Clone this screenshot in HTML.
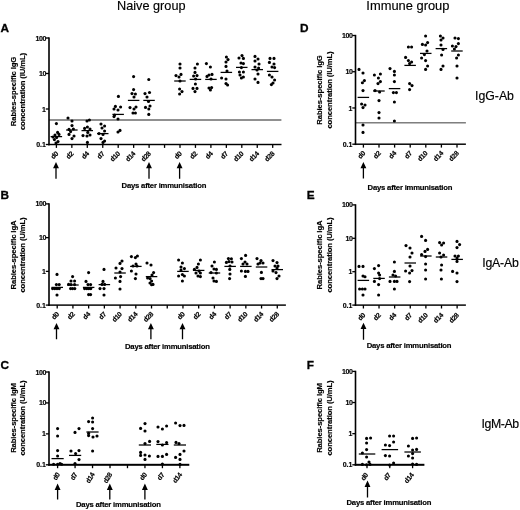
<!DOCTYPE html>
<html><head><meta charset="utf-8"><title>Figure</title>
<style>
html,body{margin:0;padding:0;background:#fff;}
body{width:520px;height:510px;overflow:hidden;font-family:"Liberation Sans",sans-serif;}
svg{display:block;}
.r{stroke:#000;stroke-width:0.15px;}
.b{font-weight:bold;stroke:#000;stroke-width:0.16px;}
.L{stroke-width:0.3px;}
</style></head><body>
<svg style="filter:blur(0.25px)" width="520" height="510" viewBox="0 0 520 510">
<rect width="520" height="510" fill="#fff"/>
<g fill="#000" font-family='"Liberation Sans", sans-serif'>
<text class="r" x="151.3" y="9.5" font-size="12.7" text-anchor="middle">Naive group</text>
<text class="r" x="407.9" y="9.6" font-size="12.9" text-anchor="middle">Immune group</text>
<text class="r" x="475.0" y="99.6" font-size="12.3">IgG-Ab</text>
<text class="r" x="482.2" y="267" font-size="12.3" letter-spacing="-0.2">IgA-Ab</text>
<text class="r" x="481.6" y="428.3" font-size="12.3" letter-spacing="-0.45">IgM-Ab</text>
<text x="0.6" y="32.0" class="b L" font-size="11.8">A</text>
<rect x="49" y="119.3" width="232.4" height="1.4" fill="#626262"/>
<rect x="48.2" y="37.35" width="1.6" height="108.0"/>
<rect x="48.2" y="143.78" width="233.3" height="1.45"/>
<rect x="45.8" y="37.35" width="3.2" height="1.3"/>
<text class="b" x="45.9" y="40.5" font-size="7.0" letter-spacing="-0.45" text-anchor="end">100</text>
<rect x="45.8" y="72.85" width="3.2" height="1.3"/>
<text class="b" x="45.9" y="76.0" font-size="7.0" letter-spacing="-0.45" text-anchor="end">10</text>
<rect x="45.8" y="108.35" width="3.2" height="1.3"/>
<text class="b" x="45.9" y="111.5" font-size="7.0" letter-spacing="0" text-anchor="end">1</text>
<rect x="45.8" y="143.85" width="3.2" height="1.3"/>
<text class="b" x="45.9" y="147.0" font-size="7.0" letter-spacing="0" text-anchor="end">0.1</text>
<rect x="55.75" y="144.5" width="1.3" height="3.4"/>
<text transform="translate(58.6 154.1) rotate(-46)" class="b" font-size="6.9" letter-spacing="-0.3" text-anchor="end">d0</text>
<rect x="71.20" y="144.5" width="1.3" height="3.4"/>
<text transform="translate(74.0 154.1) rotate(-46)" class="b" font-size="6.9" letter-spacing="-0.3" text-anchor="end">d2</text>
<rect x="86.65" y="144.5" width="1.3" height="3.4"/>
<text transform="translate(89.5 154.1) rotate(-46)" class="b" font-size="6.9" letter-spacing="-0.3" text-anchor="end">d4</text>
<rect x="102.10" y="144.5" width="1.3" height="3.4"/>
<text transform="translate(105.0 154.1) rotate(-46)" class="b" font-size="6.9" letter-spacing="-0.3" text-anchor="end">d7</text>
<rect x="117.55" y="144.5" width="1.3" height="3.4"/>
<text transform="translate(120.4 154.1) rotate(-46)" class="b" font-size="6.9" letter-spacing="-0.3" text-anchor="end">d10</text>
<rect x="133.00" y="144.5" width="1.3" height="3.4"/>
<text transform="translate(135.8 154.1) rotate(-46)" class="b" font-size="6.9" letter-spacing="-0.3" text-anchor="end">d14</text>
<rect x="148.45" y="144.5" width="1.3" height="3.4"/>
<text transform="translate(151.3 154.1) rotate(-46)" class="b" font-size="6.9" letter-spacing="-0.3" text-anchor="end">d28</text>
<rect x="163.90" y="144.5" width="1.3" height="3.4"/>
<rect x="179.35" y="144.5" width="1.3" height="3.4"/>
<text transform="translate(182.2 154.1) rotate(-46)" class="b" font-size="6.9" letter-spacing="-0.3" text-anchor="end">d0</text>
<rect x="194.80" y="144.5" width="1.3" height="3.4"/>
<text transform="translate(197.6 154.1) rotate(-46)" class="b" font-size="6.9" letter-spacing="-0.3" text-anchor="end">d2</text>
<rect x="210.25" y="144.5" width="1.3" height="3.4"/>
<text transform="translate(213.1 154.1) rotate(-46)" class="b" font-size="6.9" letter-spacing="-0.3" text-anchor="end">d4</text>
<rect x="225.70" y="144.5" width="1.3" height="3.4"/>
<text transform="translate(228.5 154.1) rotate(-46)" class="b" font-size="6.9" letter-spacing="-0.3" text-anchor="end">d7</text>
<rect x="241.15" y="144.5" width="1.3" height="3.4"/>
<text transform="translate(244.0 154.1) rotate(-46)" class="b" font-size="6.9" letter-spacing="-0.3" text-anchor="end">d10</text>
<rect x="256.60" y="144.5" width="1.3" height="3.4"/>
<text transform="translate(259.4 154.1) rotate(-46)" class="b" font-size="6.9" letter-spacing="-0.3" text-anchor="end">d14</text>
<rect x="272.05" y="144.5" width="1.3" height="3.4"/>
<text transform="translate(274.9 154.1) rotate(-46)" class="b" font-size="6.9" letter-spacing="-0.3" text-anchor="end">d28</text>
<text transform="translate(15.5 91.5) rotate(-90)" class="b" font-size="7.7" letter-spacing="-0.11" text-anchor="middle">Rabies-specific IgG</text>
<text transform="translate(25.0 91.5) rotate(-90)" class="b" font-size="7.7" letter-spacing="-0.11" text-anchor="middle">concentration (IU/mL)</text>
<path d="M56.0 162.0 L53.05 168.3 L55.35 168.3 L55.35 178.8 L56.65 178.8 L56.65 168.3 L58.95 168.3 Z"/>
<path d="M149.0 162.0 L146.05 168.3 L148.35 168.3 L148.35 178.8 L149.65 178.8 L149.65 168.3 L151.95 168.3 Z"/>
<path d="M179.6 162.0 L176.65 168.3 L178.95 168.3 L178.95 178.8 L180.25 178.8 L180.25 168.3 L182.55 168.3 Z"/>
<text x="163.9" y="188.4" class="b" font-size="7.7" letter-spacing="-0.2" text-anchor="middle">Days after immunisation</text>
<rect x="50.6" y="135.98" width="11.5" height="1.25"/>
<circle cx="56.4" cy="123.6" r="1.55"/>
<circle cx="57.6" cy="132.4" r="1.55"/>
<circle cx="55.0" cy="135.0" r="1.55"/>
<circle cx="59.0" cy="134.4" r="1.55"/>
<circle cx="53.0" cy="137.0" r="1.55"/>
<circle cx="56.6" cy="137.6" r="1.55"/>
<circle cx="54.4" cy="139.6" r="1.55"/>
<circle cx="58.0" cy="141.6" r="1.55"/>
<circle cx="56.0" cy="143.0" r="1.55"/>
<rect x="66.1" y="129.38" width="11.5" height="1.25"/>
<circle cx="68.0" cy="118.0" r="1.55"/>
<circle cx="72.0" cy="121.0" r="1.55"/>
<circle cx="72.0" cy="125.6" r="1.55"/>
<circle cx="69.0" cy="129.4" r="1.55"/>
<circle cx="73.4" cy="129.0" r="1.55"/>
<circle cx="70.6" cy="131.6" r="1.55"/>
<circle cx="69.0" cy="134.4" r="1.55"/>
<circle cx="74.0" cy="136.0" r="1.55"/>
<circle cx="72.0" cy="138.6" r="1.55"/>
<rect x="81.5" y="129.98" width="11.5" height="1.25"/>
<circle cx="89.4" cy="120.0" r="1.55"/>
<circle cx="87.0" cy="121.0" r="1.55"/>
<circle cx="87.4" cy="127.0" r="1.55"/>
<circle cx="87.8" cy="132.4" r="1.55"/>
<circle cx="84.6" cy="128.4" r="1.55"/>
<circle cx="90.0" cy="129.0" r="1.55"/>
<circle cx="83.0" cy="135.6" r="1.55"/>
<circle cx="87.0" cy="136.0" r="1.55"/>
<circle cx="90.0" cy="135.0" r="1.55"/>
<circle cx="87.4" cy="142.4" r="1.55"/>
<rect x="97.0" y="132.98" width="11.5" height="1.25"/>
<circle cx="101.0" cy="124.0" r="1.55"/>
<circle cx="104.6" cy="126.0" r="1.55"/>
<circle cx="102.0" cy="128.0" r="1.55"/>
<circle cx="104.6" cy="131.0" r="1.55"/>
<circle cx="99.0" cy="133.6" r="1.55"/>
<circle cx="103.0" cy="134.4" r="1.55"/>
<circle cx="101.0" cy="138.6" r="1.55"/>
<circle cx="104.6" cy="141.0" r="1.55"/>
<circle cx="103.0" cy="142.4" r="1.55"/>
<rect x="112.4" y="113.78" width="11.5" height="1.25"/>
<circle cx="118.4" cy="96.4" r="1.55"/>
<circle cx="115.4" cy="106.4" r="1.55"/>
<circle cx="120.6" cy="107.0" r="1.55"/>
<circle cx="114.0" cy="109.0" r="1.55"/>
<circle cx="118.0" cy="110.0" r="1.55"/>
<circle cx="114.6" cy="115.0" r="1.55"/>
<circle cx="114.0" cy="116.6" r="1.55"/>
<circle cx="118.0" cy="119.0" r="1.55"/>
<circle cx="120.0" cy="130.4" r="1.55"/>
<circle cx="118.0" cy="132.0" r="1.55"/>
<rect x="127.9" y="99.78" width="11.5" height="1.25"/>
<circle cx="133.6" cy="76.6" r="1.55"/>
<circle cx="133.6" cy="89.6" r="1.55"/>
<circle cx="132.0" cy="93.6" r="1.55"/>
<circle cx="135.4" cy="94.0" r="1.55"/>
<circle cx="134.0" cy="97.0" r="1.55"/>
<circle cx="130.0" cy="107.6" r="1.55"/>
<circle cx="136.0" cy="107.0" r="1.55"/>
<circle cx="134.0" cy="109.0" r="1.55"/>
<circle cx="133.0" cy="113.0" r="1.55"/>
<circle cx="135.4" cy="113.0" r="1.55"/>
<rect x="143.3" y="99.78" width="11.5" height="1.25"/>
<circle cx="148.8" cy="79.5" r="1.55"/>
<circle cx="145.0" cy="93.6" r="1.55"/>
<circle cx="149.5" cy="92.5" r="1.55"/>
<circle cx="147.0" cy="97.0" r="1.55"/>
<circle cx="148.5" cy="101.5" r="1.55"/>
<circle cx="150.0" cy="106.0" r="1.55"/>
<circle cx="145.5" cy="107.4" r="1.55"/>
<circle cx="148.8" cy="109.0" r="1.55"/>
<circle cx="148.8" cy="114.4" r="1.55"/>
<rect x="174.2" y="80.38" width="11.5" height="1.25"/>
<circle cx="180.0" cy="64.0" r="1.55"/>
<circle cx="180.0" cy="68.0" r="1.55"/>
<circle cx="176.0" cy="75.6" r="1.55"/>
<circle cx="181.0" cy="74.4" r="1.55"/>
<circle cx="179.0" cy="77.0" r="1.55"/>
<circle cx="180.0" cy="81.0" r="1.55"/>
<circle cx="179.6" cy="89.0" r="1.55"/>
<circle cx="182.0" cy="91.6" r="1.55"/>
<circle cx="179.6" cy="94.0" r="1.55"/>
<rect x="189.7" y="78.78" width="11.5" height="1.25"/>
<circle cx="197.4" cy="64.0" r="1.55"/>
<circle cx="195.0" cy="68.0" r="1.55"/>
<circle cx="195.0" cy="72.4" r="1.55"/>
<circle cx="193.6" cy="76.0" r="1.55"/>
<circle cx="197.0" cy="75.6" r="1.55"/>
<circle cx="195.6" cy="79.0" r="1.55"/>
<circle cx="195.4" cy="84.0" r="1.55"/>
<circle cx="193.0" cy="88.4" r="1.55"/>
<circle cx="197.0" cy="88.4" r="1.55"/>
<circle cx="195.0" cy="91.6" r="1.55"/>
<rect x="205.2" y="78.78" width="11.5" height="1.25"/>
<circle cx="206.4" cy="63.6" r="1.55"/>
<circle cx="210.4" cy="67.0" r="1.55"/>
<circle cx="209.0" cy="75.0" r="1.55"/>
<circle cx="212.0" cy="74.4" r="1.55"/>
<circle cx="207.0" cy="76.4" r="1.55"/>
<circle cx="211.0" cy="79.0" r="1.55"/>
<circle cx="209.0" cy="88.0" r="1.55"/>
<circle cx="211.6" cy="87.6" r="1.55"/>
<circle cx="210.4" cy="90.0" r="1.55"/>
<rect x="220.6" y="71.78" width="11.5" height="1.25"/>
<circle cx="226.4" cy="57.0" r="1.55"/>
<circle cx="228.0" cy="59.6" r="1.55"/>
<circle cx="226.0" cy="62.0" r="1.55"/>
<circle cx="226.0" cy="66.4" r="1.55"/>
<circle cx="227.0" cy="71.0" r="1.55"/>
<circle cx="221.6" cy="78.0" r="1.55"/>
<circle cx="226.0" cy="79.0" r="1.55"/>
<circle cx="226.0" cy="83.6" r="1.55"/>
<circle cx="227.6" cy="85.0" r="1.55"/>
<rect x="236.0" y="66.78" width="11.5" height="1.25"/>
<circle cx="242.0" cy="55.6" r="1.55"/>
<circle cx="239.0" cy="58.0" r="1.55"/>
<circle cx="243.4" cy="58.4" r="1.55"/>
<circle cx="241.0" cy="63.0" r="1.55"/>
<circle cx="243.4" cy="63.6" r="1.55"/>
<circle cx="241.4" cy="67.6" r="1.55"/>
<circle cx="239.4" cy="72.0" r="1.55"/>
<circle cx="243.4" cy="72.0" r="1.55"/>
<circle cx="240.0" cy="75.0" r="1.55"/>
<circle cx="241.4" cy="78.0" r="1.55"/>
<circle cx="243.4" cy="77.0" r="1.55"/>
<rect x="251.5" y="68.98" width="11.5" height="1.25"/>
<circle cx="255.0" cy="56.4" r="1.55"/>
<circle cx="258.0" cy="59.0" r="1.55"/>
<circle cx="255.0" cy="61.0" r="1.55"/>
<circle cx="259.0" cy="64.0" r="1.55"/>
<circle cx="255.0" cy="67.0" r="1.55"/>
<circle cx="258.6" cy="68.0" r="1.55"/>
<circle cx="257.0" cy="70.0" r="1.55"/>
<circle cx="258.0" cy="74.0" r="1.55"/>
<circle cx="255.0" cy="79.0" r="1.55"/>
<circle cx="258.0" cy="82.4" r="1.55"/>
<rect x="266.9" y="70.78" width="11.5" height="1.25"/>
<circle cx="270.0" cy="58.4" r="1.55"/>
<circle cx="274.0" cy="58.4" r="1.55"/>
<circle cx="269.4" cy="62.4" r="1.55"/>
<circle cx="274.0" cy="64.0" r="1.55"/>
<circle cx="272.0" cy="67.0" r="1.55"/>
<circle cx="274.6" cy="67.6" r="1.55"/>
<circle cx="269.4" cy="75.0" r="1.55"/>
<circle cx="272.0" cy="77.0" r="1.55"/>
<circle cx="274.6" cy="80.0" r="1.55"/>
<circle cx="273.0" cy="83.0" r="1.55"/>
<circle cx="271.4" cy="84.6" r="1.55"/>
<text x="0.6" y="199.2" class="b L" font-size="11.8">B</text>
<rect x="48.2" y="203.25" width="1.6" height="102.7"/>
<rect x="48.2" y="304.38" width="237.7" height="1.45"/>
<rect x="45.8" y="203.25" width="3.2" height="1.3"/>
<text class="b" x="45.9" y="206.4" font-size="7.0" letter-spacing="-0.45" text-anchor="end">100</text>
<rect x="45.8" y="236.98" width="3.2" height="1.3"/>
<text class="b" x="45.9" y="240.1" font-size="7.0" letter-spacing="-0.45" text-anchor="end">10</text>
<rect x="45.8" y="270.72" width="3.2" height="1.3"/>
<text class="b" x="45.9" y="273.9" font-size="7.0" letter-spacing="0" text-anchor="end">1</text>
<rect x="45.8" y="304.45" width="3.2" height="1.3"/>
<text class="b" x="45.9" y="307.6" font-size="7.0" letter-spacing="0" text-anchor="end">0.1</text>
<rect x="56.55" y="305.1" width="1.3" height="3.4"/>
<text transform="translate(59.4 314.7) rotate(-46)" class="b" font-size="6.9" letter-spacing="-0.3" text-anchor="end">d0</text>
<rect x="72.27" y="305.1" width="1.3" height="3.4"/>
<text transform="translate(75.1 314.7) rotate(-46)" class="b" font-size="6.9" letter-spacing="-0.3" text-anchor="end">d2</text>
<rect x="87.99" y="305.1" width="1.3" height="3.4"/>
<text transform="translate(90.8 314.7) rotate(-46)" class="b" font-size="6.9" letter-spacing="-0.3" text-anchor="end">d4</text>
<rect x="103.71" y="305.1" width="1.3" height="3.4"/>
<text transform="translate(106.6 314.7) rotate(-46)" class="b" font-size="6.9" letter-spacing="-0.3" text-anchor="end">d7</text>
<rect x="119.43" y="305.1" width="1.3" height="3.4"/>
<text transform="translate(122.3 314.7) rotate(-46)" class="b" font-size="6.9" letter-spacing="-0.3" text-anchor="end">d10</text>
<rect x="135.15" y="305.1" width="1.3" height="3.4"/>
<text transform="translate(138.0 314.7) rotate(-46)" class="b" font-size="6.9" letter-spacing="-0.3" text-anchor="end">d14</text>
<rect x="150.87" y="305.1" width="1.3" height="3.4"/>
<text transform="translate(153.7 314.7) rotate(-46)" class="b" font-size="6.9" letter-spacing="-0.3" text-anchor="end">d28</text>
<rect x="166.59" y="305.1" width="1.3" height="3.4"/>
<rect x="182.31" y="305.1" width="1.3" height="3.4"/>
<text transform="translate(185.2 314.7) rotate(-46)" class="b" font-size="6.9" letter-spacing="-0.3" text-anchor="end">d0</text>
<rect x="198.03" y="305.1" width="1.3" height="3.4"/>
<text transform="translate(200.9 314.7) rotate(-46)" class="b" font-size="6.9" letter-spacing="-0.3" text-anchor="end">d2</text>
<rect x="213.75" y="305.1" width="1.3" height="3.4"/>
<text transform="translate(216.6 314.7) rotate(-46)" class="b" font-size="6.9" letter-spacing="-0.3" text-anchor="end">d4</text>
<rect x="229.47" y="305.1" width="1.3" height="3.4"/>
<text transform="translate(232.3 314.7) rotate(-46)" class="b" font-size="6.9" letter-spacing="-0.3" text-anchor="end">d7</text>
<rect x="245.19" y="305.1" width="1.3" height="3.4"/>
<text transform="translate(248.0 314.7) rotate(-46)" class="b" font-size="6.9" letter-spacing="-0.3" text-anchor="end">d10</text>
<rect x="260.91" y="305.1" width="1.3" height="3.4"/>
<text transform="translate(263.8 314.7) rotate(-46)" class="b" font-size="6.9" letter-spacing="-0.3" text-anchor="end">d14</text>
<rect x="276.63" y="305.1" width="1.3" height="3.4"/>
<text transform="translate(279.5 314.7) rotate(-46)" class="b" font-size="6.9" letter-spacing="-0.3" text-anchor="end">d28</text>
<text transform="translate(15.5 255.0) rotate(-90)" class="b" font-size="7.7" letter-spacing="-0.11" text-anchor="middle">Rabies-specific IgA</text>
<text transform="translate(25.0 255.0) rotate(-90)" class="b" font-size="7.7" letter-spacing="-0.11" text-anchor="middle">concentration (U/mL)</text>
<path d="M56.5 323.0 L53.55 329.3 L55.85 329.3 L55.85 339.3 L57.15 339.3 L57.15 329.3 L59.45 329.3 Z"/>
<path d="M150.9 323.0 L147.95 329.3 L150.25 329.3 L150.25 339.3 L151.55 339.3 L151.55 329.3 L153.85 329.3 Z"/>
<path d="M182.5 323.0 L179.55 329.3 L181.85 329.3 L181.85 339.3 L183.15 339.3 L183.15 329.3 L185.45 329.3 Z"/>
<text x="167.3" y="349.4" class="b" font-size="7.7" letter-spacing="-0.2" text-anchor="middle">Days after immunisation</text>
<rect x="51.5" y="286.78" width="11.5" height="1.25"/>
<circle cx="57.0" cy="274.4" r="1.55"/>
<circle cx="56.4" cy="284.6" r="1.55"/>
<circle cx="59.2" cy="284.6" r="1.55"/>
<circle cx="52.6" cy="288.6" r="1.55"/>
<circle cx="54.8" cy="288.6" r="1.55"/>
<circle cx="57.0" cy="288.6" r="1.55"/>
<circle cx="59.2" cy="288.6" r="1.55"/>
<circle cx="57.0" cy="295.0" r="1.55"/>
<rect x="67.2" y="284.38" width="11.5" height="1.25"/>
<circle cx="72.6" cy="276.6" r="1.55"/>
<circle cx="71.0" cy="281.0" r="1.55"/>
<circle cx="74.6" cy="281.0" r="1.55"/>
<circle cx="68.6" cy="284.4" r="1.55"/>
<circle cx="71.0" cy="284.6" r="1.55"/>
<circle cx="74.6" cy="284.6" r="1.55"/>
<circle cx="70.6" cy="288.6" r="1.55"/>
<circle cx="72.6" cy="288.6" r="1.55"/>
<circle cx="74.8" cy="288.6" r="1.55"/>
<rect x="82.9" y="286.78" width="11.5" height="1.25"/>
<circle cx="88.6" cy="272.6" r="1.55"/>
<circle cx="86.0" cy="281.4" r="1.55"/>
<circle cx="88.0" cy="284.6" r="1.55"/>
<circle cx="90.6" cy="284.6" r="1.55"/>
<circle cx="84.6" cy="288.6" r="1.55"/>
<circle cx="86.8" cy="288.6" r="1.55"/>
<circle cx="88.8" cy="288.6" r="1.55"/>
<circle cx="90.8" cy="288.6" r="1.55"/>
<circle cx="88.6" cy="294.6" r="1.55"/>
<circle cx="90.6" cy="294.6" r="1.55"/>
<rect x="98.6" y="283.98" width="11.5" height="1.25"/>
<circle cx="104.0" cy="269.4" r="1.55"/>
<circle cx="103.0" cy="281.4" r="1.55"/>
<circle cx="102.0" cy="284.4" r="1.55"/>
<circle cx="104.6" cy="284.4" r="1.55"/>
<circle cx="100.0" cy="288.6" r="1.55"/>
<circle cx="104.0" cy="288.6" r="1.55"/>
<circle cx="104.0" cy="295.0" r="1.55"/>
<rect x="114.3" y="272.38" width="11.5" height="1.25"/>
<circle cx="122.0" cy="261.0" r="1.55"/>
<circle cx="120.0" cy="263.4" r="1.55"/>
<circle cx="116.0" cy="268.0" r="1.55"/>
<circle cx="122.0" cy="268.6" r="1.55"/>
<circle cx="120.0" cy="272.0" r="1.55"/>
<circle cx="115.4" cy="278.0" r="1.55"/>
<circle cx="120.6" cy="276.6" r="1.55"/>
<circle cx="120.0" cy="281.4" r="1.55"/>
<circle cx="120.0" cy="289.0" r="1.55"/>
<rect x="130.1" y="265.78" width="11.5" height="1.25"/>
<circle cx="131.4" cy="256.6" r="1.55"/>
<circle cx="137.4" cy="256.0" r="1.55"/>
<circle cx="135.4" cy="257.6" r="1.55"/>
<circle cx="136.0" cy="264.0" r="1.55"/>
<circle cx="133.0" cy="266.0" r="1.55"/>
<circle cx="137.0" cy="266.0" r="1.55"/>
<circle cx="131.4" cy="271.0" r="1.55"/>
<circle cx="136.0" cy="274.0" r="1.55"/>
<circle cx="135.4" cy="278.6" r="1.55"/>
<rect x="145.8" y="275.98" width="11.5" height="1.25"/>
<circle cx="147.0" cy="263.0" r="1.55"/>
<circle cx="151.0" cy="265.0" r="1.55"/>
<circle cx="153.6" cy="272.6" r="1.55"/>
<circle cx="152.0" cy="275.0" r="1.55"/>
<circle cx="147.6" cy="278.0" r="1.55"/>
<circle cx="150.0" cy="278.6" r="1.55"/>
<circle cx="151.6" cy="281.0" r="1.55"/>
<circle cx="150.0" cy="283.0" r="1.55"/>
<circle cx="153.0" cy="284.4" r="1.55"/>
<circle cx="151.6" cy="284.8" r="1.55"/>
<rect x="177.2" y="270.78" width="11.5" height="1.25"/>
<circle cx="178.6" cy="260.0" r="1.55"/>
<circle cx="182.4" cy="263.0" r="1.55"/>
<circle cx="181.0" cy="267.0" r="1.55"/>
<circle cx="184.4" cy="268.6" r="1.55"/>
<circle cx="181.0" cy="270.0" r="1.55"/>
<circle cx="178.6" cy="276.0" r="1.55"/>
<circle cx="182.4" cy="274.6" r="1.55"/>
<circle cx="184.4" cy="276.0" r="1.55"/>
<circle cx="182.4" cy="281.0" r="1.55"/>
<rect x="192.9" y="269.78" width="11.5" height="1.25"/>
<circle cx="200.4" cy="260.0" r="1.55"/>
<circle cx="198.4" cy="264.0" r="1.55"/>
<circle cx="197.0" cy="267.4" r="1.55"/>
<circle cx="194.4" cy="269.4" r="1.55"/>
<circle cx="199.0" cy="271.0" r="1.55"/>
<circle cx="196.0" cy="273.0" r="1.55"/>
<circle cx="200.4" cy="273.0" r="1.55"/>
<circle cx="198.0" cy="276.0" r="1.55"/>
<circle cx="200.4" cy="276.6" r="1.55"/>
<rect x="208.7" y="272.38" width="11.5" height="1.25"/>
<circle cx="214.4" cy="262.0" r="1.55"/>
<circle cx="212.0" cy="266.0" r="1.55"/>
<circle cx="214.0" cy="269.0" r="1.55"/>
<circle cx="216.4" cy="269.4" r="1.55"/>
<circle cx="211.0" cy="272.6" r="1.55"/>
<circle cx="216.4" cy="273.0" r="1.55"/>
<circle cx="213.0" cy="278.0" r="1.55"/>
<circle cx="214.0" cy="281.0" r="1.55"/>
<circle cx="216.4" cy="281.4" r="1.55"/>
<rect x="224.4" y="265.78" width="11.5" height="1.25"/>
<circle cx="228.4" cy="258.6" r="1.55"/>
<circle cx="231.4" cy="258.8" r="1.55"/>
<circle cx="226.4" cy="262.4" r="1.55"/>
<circle cx="232.0" cy="262.0" r="1.55"/>
<circle cx="229.0" cy="261.6" r="1.55"/>
<circle cx="230.0" cy="266.0" r="1.55"/>
<circle cx="229.8" cy="269.4" r="1.55"/>
<circle cx="230.0" cy="274.0" r="1.55"/>
<circle cx="229.6" cy="278.6" r="1.55"/>
<rect x="240.1" y="265.78" width="11.5" height="1.25"/>
<circle cx="245.6" cy="255.4" r="1.55"/>
<circle cx="241.4" cy="258.6" r="1.55"/>
<circle cx="245.0" cy="262.0" r="1.55"/>
<circle cx="247.0" cy="264.0" r="1.55"/>
<circle cx="243.0" cy="264.0" r="1.55"/>
<circle cx="241.4" cy="271.0" r="1.55"/>
<circle cx="245.4" cy="271.4" r="1.55"/>
<circle cx="248.0" cy="271.4" r="1.55"/>
<circle cx="245.4" cy="276.4" r="1.55"/>
<rect x="255.8" y="266.38" width="11.5" height="1.25"/>
<circle cx="257.0" cy="258.6" r="1.55"/>
<circle cx="261.0" cy="260.6" r="1.55"/>
<circle cx="260.0" cy="263.0" r="1.55"/>
<circle cx="263.0" cy="263.0" r="1.55"/>
<circle cx="258.0" cy="264.0" r="1.55"/>
<circle cx="261.4" cy="272.4" r="1.55"/>
<circle cx="261.0" cy="278.6" r="1.55"/>
<circle cx="263.0" cy="278.6" r="1.55"/>
<rect x="271.5" y="268.98" width="11.5" height="1.25"/>
<circle cx="273.0" cy="260.6" r="1.55"/>
<circle cx="277.0" cy="262.6" r="1.55"/>
<circle cx="275.0" cy="266.0" r="1.55"/>
<circle cx="278.0" cy="266.0" r="1.55"/>
<circle cx="277.0" cy="268.0" r="1.55"/>
<circle cx="273.0" cy="271.0" r="1.55"/>
<circle cx="276.0" cy="272.6" r="1.55"/>
<circle cx="279.0" cy="276.0" r="1.55"/>
<circle cx="277.0" cy="278.6" r="1.55"/>
<text x="0.6" y="369.2" class="b L" font-size="11.8">C</text>
<rect x="48.2" y="371.35" width="1.6" height="94.3"/>
<rect x="48.2" y="463.80" width="141.1" height="2.0"/>
<rect x="45.8" y="371.35" width="3.2" height="1.3"/>
<text class="b" x="45.9" y="374.5" font-size="7.0" letter-spacing="-0.45" text-anchor="end">100</text>
<rect x="45.8" y="402.28" width="3.2" height="1.3"/>
<text class="b" x="45.9" y="405.4" font-size="7.0" letter-spacing="-0.45" text-anchor="end">10</text>
<rect x="45.8" y="433.22" width="3.2" height="1.3"/>
<text class="b" x="45.9" y="436.4" font-size="7.0" letter-spacing="0" text-anchor="end">1</text>
<rect x="45.8" y="464.15" width="3.2" height="1.3"/>
<text class="b" x="45.9" y="467.3" font-size="7.0" letter-spacing="0" text-anchor="end">0.1</text>
<rect x="56.95" y="464.8" width="1.3" height="3.4"/>
<text transform="translate(60.1 474.4) rotate(-58)" class="b" font-size="6.9" letter-spacing="-0.3" text-anchor="end">d0</text>
<rect x="74.42" y="464.8" width="1.3" height="3.4"/>
<text transform="translate(77.6 474.4) rotate(-58)" class="b" font-size="6.9" letter-spacing="-0.3" text-anchor="end">d7</text>
<rect x="91.89" y="464.8" width="1.3" height="3.4"/>
<text transform="translate(95.0 474.4) rotate(-58)" class="b" font-size="6.9" letter-spacing="-0.3" text-anchor="end">d14</text>
<rect x="109.36" y="464.8" width="1.3" height="3.4"/>
<text transform="translate(112.5 474.4) rotate(-58)" class="b" font-size="6.9" letter-spacing="-0.3" text-anchor="end">d28</text>
<rect x="126.83" y="464.8" width="1.3" height="3.4"/>
<rect x="144.30" y="464.8" width="1.3" height="3.4"/>
<text transform="translate(147.3 474.8) rotate(-53)" class="b" font-size="6.9" letter-spacing="-0.3" text-anchor="end">d0</text>
<rect x="161.77" y="464.8" width="1.3" height="3.4"/>
<text transform="translate(164.8 474.8) rotate(-53)" class="b" font-size="6.9" letter-spacing="-0.3" text-anchor="end">d7</text>
<rect x="179.24" y="464.8" width="1.3" height="3.4"/>
<text transform="translate(182.3 474.8) rotate(-53)" class="b" font-size="6.9" letter-spacing="-0.3" text-anchor="end">d14</text>
<text transform="translate(15.5 418.0) rotate(-90)" class="b" font-size="7.7" letter-spacing="-0.11" text-anchor="middle">Rabies-specific IgM</text>
<text transform="translate(25.0 418.0) rotate(-90)" class="b" font-size="7.7" letter-spacing="-0.11" text-anchor="middle">concentration (U/mL)</text>
<path d="M57.6 483.6 L54.65 489.9 L56.95 489.9 L56.95 499.6 L58.25 499.6 L58.25 489.9 L60.55 489.9 Z"/>
<path d="M109.8 483.6 L106.85 489.9 L109.15 489.9 L109.15 499.6 L110.45 499.6 L110.45 489.9 L112.75 489.9 Z"/>
<path d="M144.9 483.6 L141.95 489.9 L144.25 489.9 L144.25 499.6 L145.55 499.6 L145.55 489.9 L147.85 489.9 Z"/>
<text x="118.3" y="507.4" class="b" font-size="7.7" letter-spacing="-0.2" text-anchor="middle">Days after immunisation</text>
<rect x="51.5" y="457.98" width="12.2" height="1.25"/>
<circle cx="57.6" cy="428.6" r="1.55"/>
<circle cx="57.6" cy="436.0" r="1.55"/>
<circle cx="57.6" cy="450.6" r="1.55"/>
<circle cx="57.6" cy="456.0" r="1.55"/>
<circle cx="53.6" cy="464.2" r="1.55"/>
<circle cx="57.6" cy="464.2" r="1.55"/>
<circle cx="60.0" cy="463.6" r="1.55"/>
<circle cx="61.6" cy="464.2" r="1.55"/>
<rect x="69.0" y="454.78" width="12.2" height="1.25"/>
<circle cx="79.0" cy="428.6" r="1.55"/>
<circle cx="75.0" cy="432.4" r="1.55"/>
<circle cx="71.0" cy="451.0" r="1.55"/>
<circle cx="79.0" cy="450.6" r="1.55"/>
<circle cx="75.6" cy="453.6" r="1.55"/>
<circle cx="79.0" cy="459.6" r="1.55"/>
<circle cx="75.0" cy="463.6" r="1.55"/>
<rect x="86.4" y="431.38" width="12.2" height="1.25"/>
<circle cx="92.6" cy="418.0" r="1.55"/>
<circle cx="88.6" cy="421.6" r="1.55"/>
<circle cx="92.6" cy="422.0" r="1.55"/>
<circle cx="92.6" cy="428.6" r="1.55"/>
<circle cx="88.6" cy="435.6" r="1.55"/>
<circle cx="93.0" cy="437.0" r="1.55"/>
<circle cx="97.0" cy="436.0" r="1.55"/>
<circle cx="88.6" cy="433.4" r="1.55"/>
<circle cx="92.6" cy="451.0" r="1.55"/>
<rect x="138.8" y="444.38" width="12.2" height="1.25"/>
<circle cx="145.0" cy="423.6" r="1.55"/>
<circle cx="140.6" cy="428.4" r="1.55"/>
<circle cx="145.0" cy="431.0" r="1.55"/>
<circle cx="149.6" cy="441.4" r="1.55"/>
<circle cx="145.0" cy="443.6" r="1.55"/>
<circle cx="140.6" cy="452.4" r="1.55"/>
<circle cx="140.6" cy="455.4" r="1.55"/>
<circle cx="145.0" cy="455.0" r="1.55"/>
<circle cx="149.4" cy="456.0" r="1.55"/>
<circle cx="145.0" cy="459.4" r="1.55"/>
<rect x="156.3" y="443.78" width="12.2" height="1.25"/>
<circle cx="158.0" cy="427.0" r="1.55"/>
<circle cx="162.4" cy="429.0" r="1.55"/>
<circle cx="166.6" cy="426.0" r="1.55"/>
<circle cx="158.0" cy="441.6" r="1.55"/>
<circle cx="166.6" cy="442.6" r="1.55"/>
<circle cx="162.4" cy="445.0" r="1.55"/>
<circle cx="158.0" cy="456.4" r="1.55"/>
<circle cx="162.4" cy="456.4" r="1.55"/>
<circle cx="166.6" cy="454.4" r="1.55"/>
<circle cx="162.4" cy="464.0" r="1.55"/>
<rect x="173.8" y="444.38" width="12.2" height="1.25"/>
<circle cx="175.6" cy="423.0" r="1.55"/>
<circle cx="180.0" cy="425.6" r="1.55"/>
<circle cx="184.0" cy="425.4" r="1.55"/>
<circle cx="176.0" cy="442.4" r="1.55"/>
<circle cx="179.0" cy="443.6" r="1.55"/>
<circle cx="184.0" cy="451.0" r="1.55"/>
<circle cx="180.0" cy="454.4" r="1.55"/>
<circle cx="175.6" cy="457.4" r="1.55"/>
<circle cx="180.0" cy="459.4" r="1.55"/>
<circle cx="180.0" cy="464.4" r="1.55"/>
<text x="300.0" y="32.1" class="b L" font-size="11.8">D</text>
<rect x="355.5" y="122.15" width="110.4" height="1.3" fill="#6a6a6a"/>
<rect x="354.7" y="34.85" width="1.6" height="110.2"/>
<rect x="354.7" y="143.47" width="111.2" height="1.45"/>
<rect x="352.3" y="34.85" width="3.2" height="1.3"/>
<text class="b" x="352.4" y="38.0" font-size="7.0" letter-spacing="-0.45" text-anchor="end">100</text>
<rect x="352.3" y="71.08" width="3.2" height="1.3"/>
<text class="b" x="352.4" y="74.2" font-size="7.0" letter-spacing="-0.45" text-anchor="end">10</text>
<rect x="352.3" y="107.32" width="3.2" height="1.3"/>
<text class="b" x="352.4" y="110.5" font-size="7.0" letter-spacing="0" text-anchor="end">1</text>
<rect x="352.3" y="143.55" width="3.2" height="1.3"/>
<text class="b" x="352.4" y="146.7" font-size="7.0" letter-spacing="0" text-anchor="end">0.1</text>
<rect x="362.75" y="144.2" width="1.3" height="3.4"/>
<text transform="translate(365.6 153.8) rotate(-46)" class="b" font-size="6.9" letter-spacing="-0.3" text-anchor="end">d0</text>
<rect x="378.35" y="144.2" width="1.3" height="3.4"/>
<text transform="translate(381.2 153.8) rotate(-46)" class="b" font-size="6.9" letter-spacing="-0.3" text-anchor="end">d2</text>
<rect x="393.95" y="144.2" width="1.3" height="3.4"/>
<text transform="translate(396.8 153.8) rotate(-46)" class="b" font-size="6.9" letter-spacing="-0.3" text-anchor="end">d4</text>
<rect x="409.55" y="144.2" width="1.3" height="3.4"/>
<text transform="translate(412.4 153.8) rotate(-46)" class="b" font-size="6.9" letter-spacing="-0.3" text-anchor="end">d7</text>
<rect x="425.15" y="144.2" width="1.3" height="3.4"/>
<text transform="translate(428.0 153.8) rotate(-46)" class="b" font-size="6.9" letter-spacing="-0.3" text-anchor="end">d10</text>
<rect x="440.75" y="144.2" width="1.3" height="3.4"/>
<text transform="translate(443.6 153.8) rotate(-46)" class="b" font-size="6.9" letter-spacing="-0.3" text-anchor="end">d14</text>
<rect x="456.35" y="144.2" width="1.3" height="3.4"/>
<text transform="translate(459.2 153.8) rotate(-46)" class="b" font-size="6.9" letter-spacing="-0.3" text-anchor="end">d28</text>
<text transform="translate(322.0 90.0) rotate(-90)" class="b" font-size="7.7" letter-spacing="-0.11" text-anchor="middle">Rabies-specific IgG</text>
<text transform="translate(331.5 90.0) rotate(-90)" class="b" font-size="7.7" letter-spacing="-0.11" text-anchor="middle">concentration (IU/mL)</text>
<path d="M363.4 162.0 L360.45 168.3 L362.75 168.3 L362.75 178.6 L364.05 178.6 L364.05 168.3 L366.35 168.3 Z"/>
<text x="409.9" y="190.4" class="b" font-size="7.7" letter-spacing="-0.2" text-anchor="middle">Days after immunisation</text>
<rect x="357.6" y="96.78" width="11.5" height="1.25"/>
<circle cx="359.0" cy="69.4" r="1.55"/>
<circle cx="363.0" cy="73.0" r="1.55"/>
<circle cx="364.4" cy="80.6" r="1.55"/>
<circle cx="362.4" cy="82.8" r="1.55"/>
<circle cx="363.0" cy="90.6" r="1.55"/>
<circle cx="361.6" cy="104.0" r="1.55"/>
<circle cx="365.0" cy="105.0" r="1.55"/>
<circle cx="363.0" cy="107.6" r="1.55"/>
<circle cx="363.0" cy="125.0" r="1.55"/>
<circle cx="363.0" cy="132.4" r="1.55"/>
<rect x="373.2" y="90.38" width="11.5" height="1.25"/>
<circle cx="374.4" cy="75.0" r="1.55"/>
<circle cx="380.4" cy="74.0" r="1.55"/>
<circle cx="378.4" cy="78.0" r="1.55"/>
<circle cx="380.4" cy="81.6" r="1.55"/>
<circle cx="378.0" cy="83.6" r="1.55"/>
<circle cx="375.0" cy="90.6" r="1.55"/>
<circle cx="379.6" cy="92.0" r="1.55"/>
<circle cx="379.0" cy="100.6" r="1.55"/>
<circle cx="379.0" cy="112.6" r="1.55"/>
<circle cx="379.0" cy="118.0" r="1.55"/>
<rect x="388.8" y="87.98" width="11.5" height="1.25"/>
<circle cx="390.0" cy="68.6" r="1.55"/>
<circle cx="394.4" cy="71.4" r="1.55"/>
<circle cx="394.4" cy="75.0" r="1.55"/>
<circle cx="394.4" cy="81.6" r="1.55"/>
<circle cx="393.4" cy="92.6" r="1.55"/>
<circle cx="396.4" cy="92.6" r="1.55"/>
<circle cx="394.4" cy="102.0" r="1.55"/>
<circle cx="394.4" cy="121.0" r="1.55"/>
<rect x="404.4" y="64.78" width="11.5" height="1.25"/>
<circle cx="408.4" cy="47.0" r="1.55"/>
<circle cx="411.6" cy="47.0" r="1.55"/>
<circle cx="405.6" cy="57.4" r="1.55"/>
<circle cx="408.4" cy="60.6" r="1.55"/>
<circle cx="411.6" cy="62.0" r="1.55"/>
<circle cx="409.6" cy="63.6" r="1.55"/>
<circle cx="409.6" cy="83.6" r="1.55"/>
<circle cx="412.0" cy="85.6" r="1.55"/>
<circle cx="409.6" cy="89.6" r="1.55"/>
<rect x="420.0" y="52.78" width="11.5" height="1.25"/>
<circle cx="425.6" cy="36.0" r="1.55"/>
<circle cx="422.4" cy="44.4" r="1.55"/>
<circle cx="425.6" cy="45.0" r="1.55"/>
<circle cx="427.6" cy="42.6" r="1.55"/>
<circle cx="427.0" cy="51.0" r="1.55"/>
<circle cx="424.4" cy="54.6" r="1.55"/>
<circle cx="421.6" cy="58.0" r="1.55"/>
<circle cx="425.6" cy="60.6" r="1.55"/>
<circle cx="427.6" cy="66.0" r="1.55"/>
<circle cx="425.6" cy="69.4" r="1.55"/>
<rect x="435.6" y="47.98" width="11.5" height="1.25"/>
<circle cx="440.4" cy="36.0" r="1.55"/>
<circle cx="443.0" cy="38.0" r="1.55"/>
<circle cx="441.0" cy="40.0" r="1.55"/>
<circle cx="441.0" cy="45.0" r="1.55"/>
<circle cx="443.0" cy="49.4" r="1.55"/>
<circle cx="441.6" cy="55.0" r="1.55"/>
<circle cx="443.0" cy="66.0" r="1.55"/>
<circle cx="441.0" cy="69.4" r="1.55"/>
<rect x="451.2" y="50.38" width="11.5" height="1.25"/>
<circle cx="455.0" cy="38.0" r="1.55"/>
<circle cx="458.4" cy="38.6" r="1.55"/>
<circle cx="458.4" cy="43.6" r="1.55"/>
<circle cx="452.4" cy="46.0" r="1.55"/>
<circle cx="456.0" cy="46.6" r="1.55"/>
<circle cx="454.4" cy="49.0" r="1.55"/>
<circle cx="458.4" cy="55.0" r="1.55"/>
<circle cx="456.6" cy="58.0" r="1.55"/>
<circle cx="457.0" cy="66.0" r="1.55"/>
<circle cx="457.0" cy="78.0" r="1.55"/>
<text x="306.8" y="199.2" class="b L" font-size="11.8">E</text>
<rect x="354.7" y="204.25" width="1.6" height="101.7"/>
<rect x="354.7" y="304.38" width="111.2" height="1.45"/>
<rect x="352.3" y="204.25" width="3.2" height="1.3"/>
<text class="b" x="352.4" y="207.4" font-size="7.0" letter-spacing="-0.45" text-anchor="end">100</text>
<rect x="352.3" y="237.65" width="3.2" height="1.3"/>
<text class="b" x="352.4" y="240.8" font-size="7.0" letter-spacing="-0.45" text-anchor="end">10</text>
<rect x="352.3" y="271.05" width="3.2" height="1.3"/>
<text class="b" x="352.4" y="274.2" font-size="7.0" letter-spacing="0" text-anchor="end">1</text>
<rect x="352.3" y="304.45" width="3.2" height="1.3"/>
<text class="b" x="352.4" y="307.6" font-size="7.0" letter-spacing="0" text-anchor="end">0.1</text>
<rect x="362.75" y="305.1" width="1.3" height="3.4"/>
<text transform="translate(365.6 315.7) rotate(-46)" class="b" font-size="6.9" letter-spacing="-0.3" text-anchor="end">d0</text>
<rect x="378.37" y="305.1" width="1.3" height="3.4"/>
<text transform="translate(381.2 315.7) rotate(-46)" class="b" font-size="6.9" letter-spacing="-0.3" text-anchor="end">d2</text>
<rect x="393.99" y="305.1" width="1.3" height="3.4"/>
<text transform="translate(396.8 315.7) rotate(-46)" class="b" font-size="6.9" letter-spacing="-0.3" text-anchor="end">d4</text>
<rect x="409.61" y="305.1" width="1.3" height="3.4"/>
<text transform="translate(412.5 315.7) rotate(-46)" class="b" font-size="6.9" letter-spacing="-0.3" text-anchor="end">d7</text>
<rect x="425.23" y="305.1" width="1.3" height="3.4"/>
<text transform="translate(428.1 315.7) rotate(-46)" class="b" font-size="6.9" letter-spacing="-0.3" text-anchor="end">d10</text>
<rect x="440.85" y="305.1" width="1.3" height="3.4"/>
<text transform="translate(443.7 315.7) rotate(-46)" class="b" font-size="6.9" letter-spacing="-0.3" text-anchor="end">d14</text>
<rect x="456.47" y="305.1" width="1.3" height="3.4"/>
<text transform="translate(459.3 315.7) rotate(-46)" class="b" font-size="6.9" letter-spacing="-0.3" text-anchor="end">d28</text>
<text transform="translate(322.0 255.0) rotate(-90)" class="b" font-size="7.7" letter-spacing="-0.11" text-anchor="middle">Rabies-specific IgA</text>
<text transform="translate(331.5 255.0) rotate(-90)" class="b" font-size="7.7" letter-spacing="-0.11" text-anchor="middle">concentration (U/mL)</text>
<path d="M363.5 322.8 L360.55 329.1 L362.85 329.1 L362.85 339.8 L364.15 339.8 L364.15 329.1 L366.45 329.1 Z"/>
<text x="409.0" y="348.4" class="b" font-size="7.7" letter-spacing="-0.2" text-anchor="middle">Days after immunisation</text>
<rect x="357.6" y="279.78" width="11.5" height="1.25"/>
<circle cx="359.0" cy="266.4" r="1.55"/>
<circle cx="363.0" cy="266.4" r="1.55"/>
<circle cx="363.0" cy="276.0" r="1.55"/>
<circle cx="365.0" cy="276.8" r="1.55"/>
<circle cx="359.6" cy="289.0" r="1.55"/>
<circle cx="362.4" cy="289.0" r="1.55"/>
<circle cx="365.0" cy="289.0" r="1.55"/>
<circle cx="363.0" cy="295.0" r="1.55"/>
<rect x="373.3" y="277.78" width="11.5" height="1.25"/>
<circle cx="378.6" cy="265.6" r="1.55"/>
<circle cx="374.4" cy="268.6" r="1.55"/>
<circle cx="378.6" cy="273.0" r="1.55"/>
<circle cx="379.6" cy="275.0" r="1.55"/>
<circle cx="374.4" cy="281.4" r="1.55"/>
<circle cx="379.6" cy="278.6" r="1.55"/>
<circle cx="378.6" cy="284.6" r="1.55"/>
<circle cx="378.6" cy="295.0" r="1.55"/>
<rect x="388.9" y="276.38" width="11.5" height="1.25"/>
<circle cx="394.4" cy="262.0" r="1.55"/>
<circle cx="394.4" cy="271.4" r="1.55"/>
<circle cx="393.0" cy="275.0" r="1.55"/>
<circle cx="395.6" cy="276.0" r="1.55"/>
<circle cx="390.0" cy="281.4" r="1.55"/>
<circle cx="394.4" cy="281.4" r="1.55"/>
<circle cx="397.0" cy="281.4" r="1.55"/>
<circle cx="394.4" cy="289.0" r="1.55"/>
<rect x="404.5" y="262.38" width="11.5" height="1.25"/>
<circle cx="406.0" cy="245.6" r="1.55"/>
<circle cx="410.0" cy="248.0" r="1.55"/>
<circle cx="412.0" cy="253.0" r="1.55"/>
<circle cx="410.0" cy="257.0" r="1.55"/>
<circle cx="410.0" cy="266.0" r="1.55"/>
<circle cx="405.6" cy="271.0" r="1.55"/>
<circle cx="412.0" cy="270.6" r="1.55"/>
<circle cx="409.6" cy="273.0" r="1.55"/>
<circle cx="409.6" cy="281.6" r="1.55"/>
<rect x="420.1" y="255.38" width="11.5" height="1.25"/>
<circle cx="421.6" cy="236.4" r="1.55"/>
<circle cx="425.6" cy="240.4" r="1.55"/>
<circle cx="427.6" cy="249.4" r="1.55"/>
<circle cx="425.0" cy="251.4" r="1.55"/>
<circle cx="421.6" cy="254.6" r="1.55"/>
<circle cx="425.6" cy="256.6" r="1.55"/>
<circle cx="425.6" cy="264.0" r="1.55"/>
<circle cx="425.6" cy="270.0" r="1.55"/>
<circle cx="425.6" cy="279.0" r="1.55"/>
<rect x="435.8" y="256.38" width="11.5" height="1.25"/>
<circle cx="439.6" cy="242.6" r="1.55"/>
<circle cx="443.6" cy="243.0" r="1.55"/>
<circle cx="441.6" cy="245.0" r="1.55"/>
<circle cx="439.6" cy="253.0" r="1.55"/>
<circle cx="443.6" cy="255.0" r="1.55"/>
<circle cx="441.0" cy="257.0" r="1.55"/>
<circle cx="441.6" cy="265.0" r="1.55"/>
<circle cx="441.0" cy="270.0" r="1.55"/>
<circle cx="441.4" cy="279.0" r="1.55"/>
<rect x="451.4" y="258.78" width="11.5" height="1.25"/>
<circle cx="457.0" cy="241.4" r="1.55"/>
<circle cx="459.6" cy="244.6" r="1.55"/>
<circle cx="457.0" cy="247.6" r="1.55"/>
<circle cx="455.0" cy="256.0" r="1.55"/>
<circle cx="458.4" cy="256.0" r="1.55"/>
<circle cx="457.0" cy="258.0" r="1.55"/>
<circle cx="457.0" cy="261.4" r="1.55"/>
<circle cx="452.6" cy="271.4" r="1.55"/>
<circle cx="457.0" cy="273.0" r="1.55"/>
<circle cx="457.0" cy="281.6" r="1.55"/>
<text x="306.8" y="369.1" class="b L" font-size="11.8">F</text>
<rect x="354.7" y="370.75" width="1.6" height="94.9"/>
<rect x="354.7" y="463.80" width="69.7" height="2.0"/>
<rect x="352.3" y="370.75" width="3.2" height="1.3"/>
<text class="b" x="352.4" y="373.9" font-size="7.0" letter-spacing="-0.45" text-anchor="end">100</text>
<rect x="352.3" y="401.88" width="3.2" height="1.3"/>
<text class="b" x="352.4" y="405.0" font-size="7.0" letter-spacing="-0.45" text-anchor="end">10</text>
<rect x="352.3" y="433.02" width="3.2" height="1.3"/>
<text class="b" x="352.4" y="436.2" font-size="7.0" letter-spacing="0" text-anchor="end">1</text>
<rect x="352.3" y="464.15" width="3.2" height="1.3"/>
<text class="b" x="352.4" y="467.3" font-size="7.0" letter-spacing="0" text-anchor="end">0.1</text>
<rect x="366.35" y="464.8" width="1.3" height="3.4"/>
<text transform="translate(368.5 475.1) rotate(-52)" class="b" font-size="6.9" letter-spacing="-0.3" text-anchor="end">d0</text>
<rect x="389.15" y="464.8" width="1.3" height="3.4"/>
<text transform="translate(391.3 475.1) rotate(-52)" class="b" font-size="6.9" letter-spacing="-0.3" text-anchor="end">d7</text>
<rect x="411.95" y="464.8" width="1.3" height="3.4"/>
<text transform="translate(414.1 475.1) rotate(-52)" class="b" font-size="6.9" letter-spacing="-0.3" text-anchor="end">d14</text>
<text transform="translate(322.0 418.0) rotate(-90)" class="b" font-size="7.7" letter-spacing="-0.11" text-anchor="middle">Rabies-specific IgM</text>
<text transform="translate(331.5 418.0) rotate(-90)" class="b" font-size="7.7" letter-spacing="-0.11" text-anchor="middle">concentration (U/mL)</text>
<path d="M367.5 480.6 L364.55 486.9 L366.85 486.9 L366.85 497.4 L368.15 497.4 L368.15 486.9 L370.45 486.9 Z"/>
<text x="388.8" y="504.6" class="b" font-size="7.7" letter-spacing="-0.2" text-anchor="middle">Days after immunisation</text>
<rect x="358.8" y="453.38" width="16.5" height="1.25"/>
<circle cx="366.6" cy="438.4" r="1.55"/>
<circle cx="370.6" cy="438.0" r="1.55"/>
<circle cx="366.6" cy="443.0" r="1.55"/>
<circle cx="366.6" cy="449.6" r="1.55"/>
<circle cx="362.4" cy="453.0" r="1.55"/>
<circle cx="366.6" cy="457.0" r="1.55"/>
<circle cx="369.0" cy="462.0" r="1.55"/>
<circle cx="362.4" cy="464.4" r="1.55"/>
<circle cx="366.6" cy="464.8" r="1.55"/>
<circle cx="370.0" cy="464.4" r="1.55"/>
<rect x="381.6" y="448.98" width="16.5" height="1.25"/>
<circle cx="389.6" cy="436.0" r="1.55"/>
<circle cx="393.6" cy="436.0" r="1.55"/>
<circle cx="393.6" cy="442.0" r="1.55"/>
<circle cx="385.4" cy="445.0" r="1.55"/>
<circle cx="389.6" cy="445.6" r="1.55"/>
<circle cx="385.4" cy="455.6" r="1.55"/>
<circle cx="389.6" cy="456.0" r="1.55"/>
<circle cx="393.6" cy="463.0" r="1.55"/>
<circle cx="389.6" cy="465.0" r="1.55"/>
<rect x="404.4" y="451.38" width="16.5" height="1.25"/>
<circle cx="412.6" cy="438.4" r="1.55"/>
<circle cx="416.6" cy="438.0" r="1.55"/>
<circle cx="408.4" cy="446.0" r="1.55"/>
<circle cx="412.6" cy="450.0" r="1.55"/>
<circle cx="416.6" cy="449.4" r="1.55"/>
<circle cx="412.6" cy="453.6" r="1.55"/>
<circle cx="408.4" cy="456.0" r="1.55"/>
<circle cx="412.6" cy="458.0" r="1.55"/>
<circle cx="412.6" cy="464.0" r="1.55"/>
<circle cx="416.6" cy="464.4" r="1.55"/>
</g>
</svg>
</body></html>
